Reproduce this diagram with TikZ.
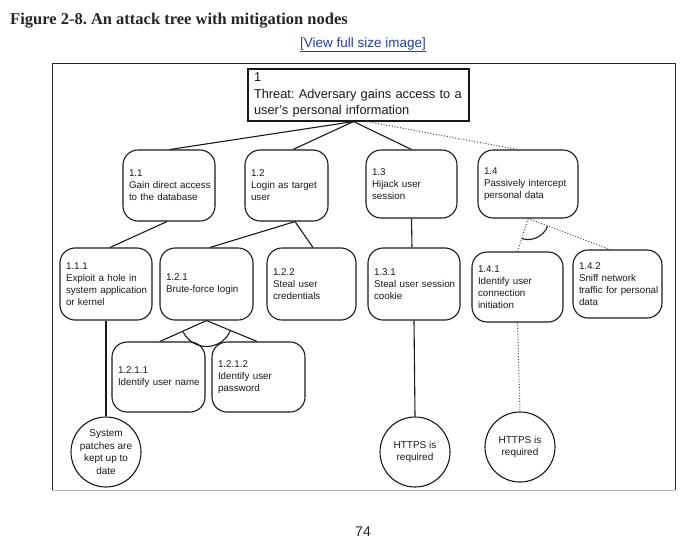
\documentclass[tikz,border=0pt]{standalone}
\usepackage{fontspec}
\setmainfont{Liberation Sans}
\newfontfamily\titlefont{Liberation Serif}
\usetikzlibrary{calc}
\definecolor{linkblue}{HTML}{1F3FA0}
\newcommand\boxline[1]{\mbox{#1}}
\begin{document}
\frenchspacing
\begin{tikzpicture}[x=1pt,y=-1pt,
  edge/.style={line width=1.1pt, black!90},
  dotedge/.style={line width=1pt, black!70, dash pattern=on 1pt off 1.8pt},
  rootbox/.style={draw, line width=1.1pt, black!90, text=black!90, align=left, inner xsep=6pt, inner ysep=0pt, text width=209pt, minimum height=52pt, font=\fontsize{12.8}{16.5}\selectfont},
  box/.style={draw, line width=1.1pt, black!90, text=black!90, rounded corners=15pt, align=left, inner xsep=6pt, inner ysep=0pt, font=\fontsize{9.8}{12}\selectfont},
  leaf/.style={circle, draw, line width=1.1pt, black!90, text=black!90, minimum size=70pt, inner sep=0pt, align=center, font=\fontsize{10}{12.8}\selectfont}
]
\useasboundingbox (0,0) rectangle (692,544);

% header
\node[anchor=base west, inner sep=0pt, font=\titlefont\fontsize{16.5}{19}\selectfont\bfseries, text=black!85] (title) at (10,24) {Figure 2-8. An attack tree with mitigation nodes};
\node[anchor=base, inner sep=0pt, font=\fontsize{13.5}{15}\selectfont, text=linkblue] (link) at (363,47) {\underline{[View full size image]}};
\node[inner sep=0pt, font=\fontsize{14}{16}\selectfont, text=black!85] (page) at (363,532) {74};

% frame
\draw[line width=1pt, black!85] (52,490) -- (52,63) -- (675,63) -- (675,490);
\draw[line width=1pt, black!30] (52,490) -- (675,490);

% nodes
\node[rootbox] (root) at (358.5,95) {\boxline{1}\\\boxline{Threat: Adversary gains access to a}\\\boxline{user's personal information}};

\node[box, text width=80pt, minimum height=71pt] (n11) at (169,185.5) {\boxline{1.1}\\\boxline{Gain direct access}\\\boxline{to the database}};
\node[box, text width=71pt, minimum height=71pt] (n12) at (286.5,185.5) {\boxline{1.2}\\\boxline{Login as target}\\\boxline{user}};
\node[box, text width=79pt, minimum height=68pt] (n13) at (411.5,184) {\boxline{1.3}\\\boxline{Hijack user}\\\boxline{session}};
\node[box, text width=88pt, minimum height=68pt] (n14) at (528,184) {\boxline{1.4}\\\boxline{Passively intercept}\\\boxline{personal data}};

\node[box, text width=80pt, minimum height=72pt] (n111) at (106,284) {\boxline{1.1.1}\\\boxline{Exploit a hole in}\\\boxline{system application}\\\boxline{or kernel}};
\node[box, text width=81pt, minimum height=72pt] (n121) at (206.5,284) {\boxline{1.2.1}\\\boxline{Brute-force login}};
\node[box, text width=77pt, minimum height=72pt] (n122) at (311.5,284) {\boxline{1.2.2}\\\boxline{Steal user}\\\boxline{credentials}};
\node[box, text width=80pt, minimum height=72pt] (n131) at (414,284) {\boxline{1.3.1}\\\boxline{Steal user session}\\\boxline{cookie}};
\node[box, text width=79pt, minimum height=70pt] (n141) at (517.5,287) {\boxline{1.4.1}\\\boxline{Identify user}\\\boxline{connection}\\\boxline{initiation}};
\node[box, text width=77pt, minimum height=68pt] (n142) at (617.5,284) {\boxline{1.4.2}\\\boxline{Sniff network}\\\boxline{traffic for personal}\\\boxline{data}};

\node[box, text width=81pt, minimum height=70pt] (n1211) at (158.5,377) {\boxline{1.2.1.1}\\\boxline{Identify user name}};
\node[box, text width=81pt, minimum height=70pt] (n1212) at (258.5,377) {\boxline{1.2.1.2}\\\boxline{Identify user}\\\boxline{password}};

\node[leaf] (m1) at (106,452) {System\\patches are\\kept up to\\date};
\node[leaf] (m2) at (415,452) {HTTPS is\\required};
\node[leaf] (m3) at (520,447) {HTTPS is\\required};

% connectors
\draw[edge] ([xshift=-5pt]root.south) -- ([xshift=1pt]n11.north);
\draw[edge] ([xshift=-5pt]root.south) -- ([xshift=6.5pt]n12.north);
\draw[edge] ([xshift=-5pt]root.south) -- (n13.north);
\draw[dotedge] ([xshift=8.5pt]root.south) -- ([xshift=-11pt]n14.north);

\draw[edge] ([xshift=-2pt]n11.south) -- ([xshift=4pt]n111.north);
\draw[edge] ([xshift=8.5pt]n12.south) -- ([xshift=3.5pt]n121.north);
\draw[edge] ([xshift=8.5pt]n12.south) -- ([xshift=1.5pt]n122.north);
\draw[edge] (n13.south) -- ([xshift=-2pt]n131.north);
\draw[dotedge] (n14.south) -- (n141.north);
\draw[dotedge] (n14.south) -- ([xshift=-7.5pt]n142.north);

\draw[edge] (n121.south) -- ([xshift=1.5pt]n1211.north);
\draw[edge] (n121.south) -- ([xshift=-1.5pt]n1212.north);

\draw[edge] (n111.south) -- (m1.north);
\draw[edge] (n131.south) -- (m2.north);
\draw[dotedge] (n141.south) -- (m3.north);

% AND arcs
\draw[edge] ($(n121.south)+(205.3:26pt)$) arc[start angle=205.3, end angle=336.5, radius=26pt];
\draw[edge] ($(n14.south)+(252.8:21pt)$) arc[start angle=252.8, end angle=338.7, radius=21pt];
\end{tikzpicture}
\end{document}
